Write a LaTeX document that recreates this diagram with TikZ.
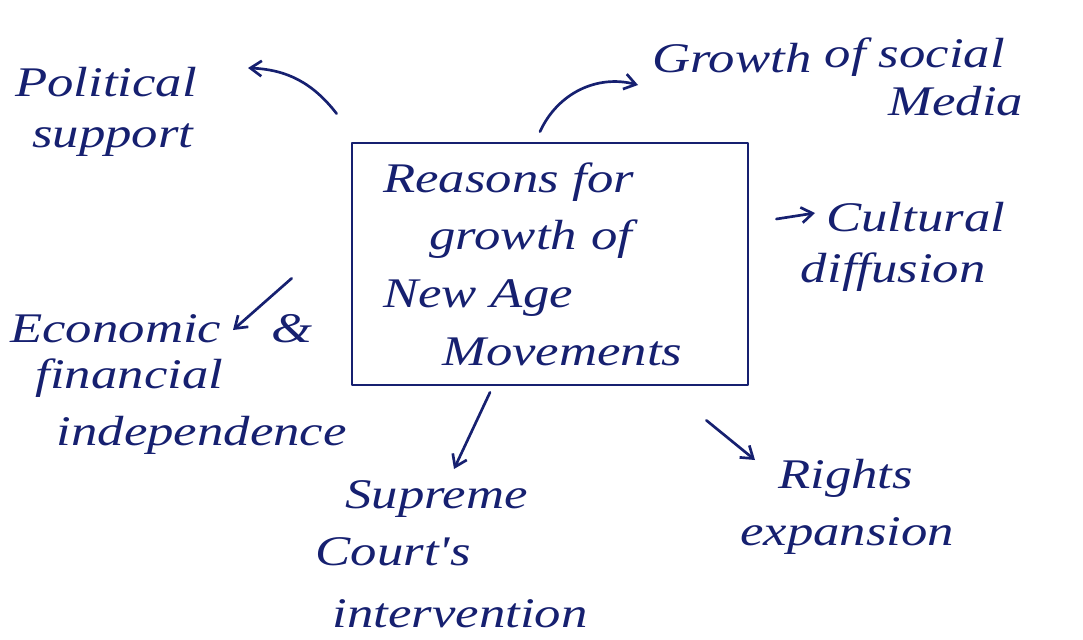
\documentclass[tikz,border=0pt]{standalone}
\usepackage{fontspec}
\usetikzlibrary{arrows.meta}

\newfontfamily\hand{Liberation Serif}[FakeStretch=1.25]
\definecolor{ink}{RGB}{22,32,112}

\begin{document}
\begin{tikzpicture}[
    x=0.025cm, y=-0.025cm,
    ink line/.style={draw=ink, line width=1.9pt, line cap=round, line join=round},
    arr/.style={ink line, -{Straight Barb[length=8pt, width=11pt, line width=1.9pt]}},
    lbl/.style={text=ink, align=left, inner sep=0pt, anchor=base west,
        font=\hand\itshape\fontsize{30}{36}\selectfont},
    centre/.style={ink line, minimum width=9.9cm, minimum height=6.05cm,
        inner xsep=0.78cm, inner ysep=0pt, text width=8.34cm,
        text=ink, align=left, font=\hand\itshape\fontsize{30}{41}\selectfont}
]
    \useasboundingbox (0,0) rectangle (1083,639);

    % central box
    \node[centre] (box) at (550,264) {Reasons for\\\hspace*{1.1em}growth of\\New Age\\\hspace*{1.4em}Movements};

    % labels around the box (anchored at the baseline of their last line)
    \node[lbl] (pol) at (15,147) {Political\\\hspace*{0.4em}support};
    \node[lbl] (soc) at (652,115) {Growth \raisebox{4pt}{of social}\\[-6pt]\hspace*{5.6em}Media};
    \node[lbl] (cul) at (826,282) {Cultural\\\hspace*{-0.6em}diffusion};
    \node[lbl] (eco) at (10,445) {Economic\hspace*{1.2em}\&\\[-3pt]\hspace*{0.6em}financial\\[4pt]\hspace*{1.1em}independence};
    \node[lbl] (sup) at (345,627) {Supreme\\[4pt]\hspace*{-0.7em}Court's\\[8pt]\hspace*{-0.3em}intervention};
    \node[lbl] (rig) at (778,545) {Rights\\[4pt]\hspace*{-0.9em}expansion};

    % arrows
    \draw[arr] ([shift={(-14,-28)}]box.north west) to[bend right=25] ([shift={(233,-79)}]pol.base west);
    \draw[arr] ([shift={(-10,-10)}]box.north) to[bend left=40] ([shift={(-14,-30)}]soc.base west);
    \draw[arr] ([shift={(27,-45)}]box.east) -- ([shift={(-11,-69)}]cul.base west);
    \draw[arr] ([shift={(-59,-108)}]box.south west) -- ([shift={(223,-115)}]eco.base west);
    \draw[arr] ([shift={(-60,6)}]box.south) -- ([shift={(109,-158)}]sup.base west);
    \draw[arr] ([shift={(-43,34)}]box.south east) -- ([shift={(-23,-85)}]rig.base west);
\end{tikzpicture}
\end{document}
